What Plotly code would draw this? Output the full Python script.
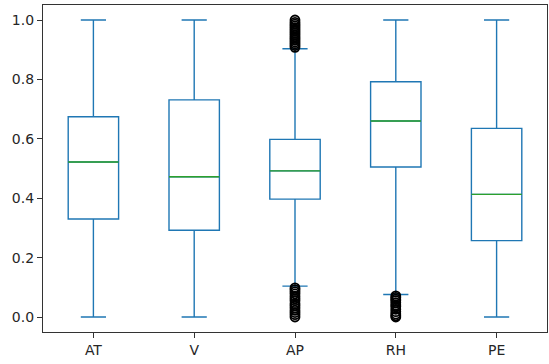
import plotly.graph_objects as go

categories = ["AT", "V", "AP", "RH", "PE"]
q1 = [0.330, 0.292, 0.397, 0.505, 0.257]
median = [0.522, 0.472, 0.492, 0.660, 0.413]
q3 = [0.674, 0.731, 0.598, 0.792, 0.635]
lower_whisker = [0.0, 0.0, 0.104, 0.076, 0.0]
upper_whisker = [1.0, 1.0, 0.903, 1.0, 1.0]

ap_outliers = [0.0, 0.008, 0.015, 0.022, 0.03, 0.038, 0.045, 0.055, 0.062, 0.07, 0.078, 0.085, 0.092, 0.098,
               0.908, 0.914, 0.92, 0.926, 0.932, 0.938, 0.944, 0.95, 0.956, 0.962, 0.968, 0.974, 0.98, 0.986, 0.992, 1.0]
rh_outliers = [0.0, 0.004, 0.01, 0.018, 0.026, 0.035, 0.04, 0.048, 0.055, 0.06, 0.066, 0.071]

BLUE = "#1f77b4"
GREEN = "#2ca02c"
pos = list(range(1, len(categories) + 1))

fig = go.Figure()
for i, c in enumerate(categories):
    fig.add_trace(go.Box(
        x=[pos[i]], q1=[q1[i]], median=[median[i]], q3=[q3[i]],
        lowerfence=[lower_whisker[i]], upperfence=[upper_whisker[i]],
        width=0.5, whiskerwidth=0.5, boxpoints=False,
        line=dict(color=BLUE, width=1.4), fillcolor="rgba(0,0,0,0)",
        showlegend=False, hoverinfo="skip"))
    fig.add_trace(go.Scatter(
        x=[pos[i] - 0.25, pos[i] + 0.25], y=[median[i], median[i]],
        mode="lines", line=dict(color=GREEN, width=1.4), showlegend=False, hoverinfo="skip"))

for name, vals in (("AP", ap_outliers), ("RH", rh_outliers)):
    p = pos[categories.index(name)]
    fig.add_trace(go.Scatter(
        x=[p] * len(vals), y=vals, mode="markers",
        marker=dict(symbol="circle-open", size=9, color="black", line=dict(width=1.8)),
        showlegend=False, hoverinfo="skip"))

axis_common = dict(showgrid=False, zeroline=False, showline=True, mirror=True,
                   linecolor="#333333", linewidth=1.3, ticks="outside", ticklen=5,
                   tickwidth=1.1, tickcolor="#333333",
                   tickfont=dict(family="DejaVu Sans", size=14, color="#262626"))

fig.update_layout(
    width=549, height=364,
    margin=dict(l=43, r=2, t=5, b=32),
    paper_bgcolor="white", plot_bgcolor="white",
    xaxis=dict(range=[0.5, 5.5], tickvals=pos, ticktext=categories, **axis_common),
    yaxis=dict(range=[-0.0505, 1.0505], tickvals=[0.0, 0.2, 0.4, 0.6, 0.8, 1.0],
               ticktext=["0.0", "0.2", "0.4", "0.6", "0.8", "1.0"], **axis_common),
)

fig.write_html("out.html", config={"displayModeBar": False},
               post_script="document.body.style.margin='0';")
